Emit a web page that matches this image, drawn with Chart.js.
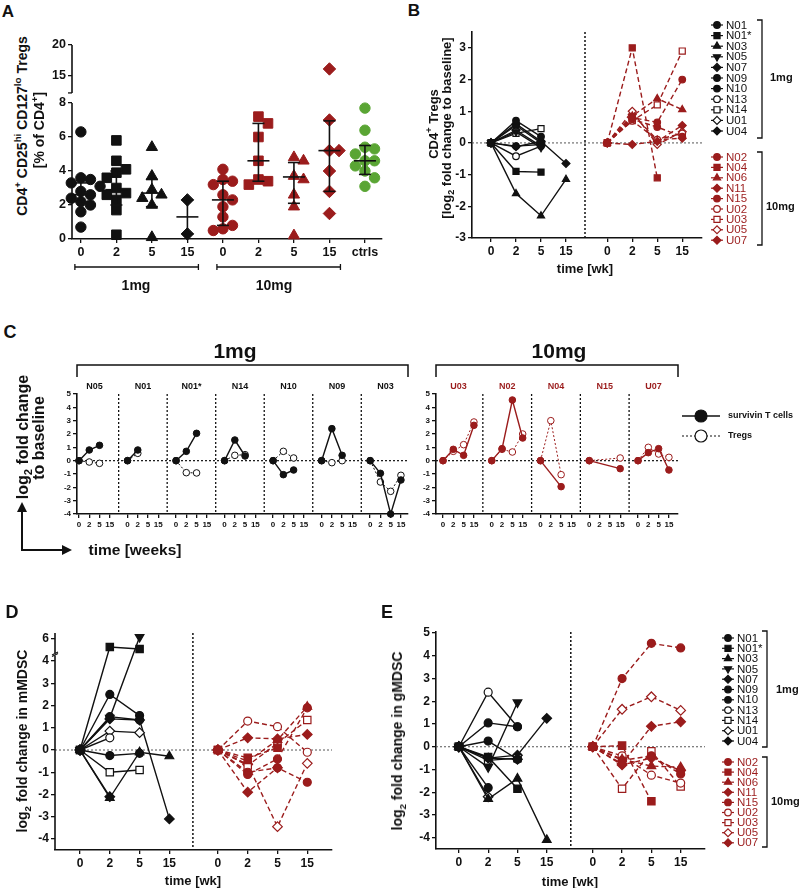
<!DOCTYPE html>
<html>
<head>
<meta charset="utf-8">
<script src="https://cdn.jsdelivr.net/npm/chart.js@4.4.1/dist/chart.umd.min.js"></script>
<style>
  body { margin: 0; width: 800px; height: 888px; position: relative; overflow: hidden; background: #fff;
         font-family: "Liberation Sans", Arial, sans-serif; }
  canvas { position: absolute; }
  .t { position: absolute; transform: translate(-50%, -50%); white-space: nowrap; font-weight: bold; color: #111; line-height: 1; }
  .r { transform: translate(-50%, -50%) rotate(-90deg); }
  sup, sub { font-size: 70%; line-height: 0; }
</style>
</head>
<body>
<script>
// ---------- data ----------
const weekLabels = ['0', '2', '5', '15'];

// A: Treg % of CD4+ per group
const aCats = ['0', '2', '5', '15', '0', '2', '5', '15', 'ctrls'];
const aVals = [
  [6.3, 3.6, 3.5, 3.3, 3.1, 2.8, 2.6, 2.4, 2.2, 2.0, 1.6, 0.7],
  [5.8, 4.6, 4.1, 3.9, 3.6, 3.0, 2.7, 2.6, 2.3, 1.7, 0.25],
  [5.4, 3.7, 2.9, 2.6, 2.4, 2.0, 0.1],
  [2.3, 0.3],
  [4.1, 3.5, 3.4, 3.2, 2.6, 2.3, 1.9, 1.3, 0.8, 0.6, 0.5],
  [7.2, 6.8, 6.0, 4.6, 3.5, 3.4, 3.2],
  [4.8, 4.6, 3.7, 3.5, 2.6, 1.9, 0.2],
  [16.1, 7.0, 5.2, 5.2, 4.0, 2.8, 1.5],
  [7.7, 6.4, 5.4, 5.3, 5.0, 4.6, 4.6, 4.3, 4.0, 3.6, 3.1]
];
const aMed = [2.6, 2.9, 2.7, 1.3, 2.3, 4.6, 3.65, 5.2, 4.6];
const aLo  = [2.2, 2.0, 1.9, 0.3, 0.8, 3.4, 2.1, 2.8, 3.8];
const aHi  = [3.3, 4.0, 3.5, 2.3, 3.4, 6.8, 4.5, 6.95, 5.5];
const aTicks = [0, 2, 4, 6, 8, 15, 20];

// patients
const ids1  = ['N01', 'N01*', 'N03', 'N05', 'N07', 'N09', 'N10', 'N13', 'N14', 'U01', 'U04'];
const ids10 = ['N02', 'N04', 'N06', 'N11', 'N15', 'U02', 'U03', 'U05', 'U07'];

// B: CD4+ Tregs, log2 fold change
const bTregs1 = [
  [0, 0.7, 0.2, null], [0, -0.9, -0.92, null], [0, -1.6, -2.3, -1.15], [0, 0.35, -0.15, null],
  [0, -0.12, 0.05, null], [0, 0.55, 0.0, null], [0, -0.1, -0.05, null], [0, -0.42, -0.1, null],
  [0, 0.3, 0.45, null], [0, 0.4, -0.1, null], [0, 0.6, 0.05, -0.65]
];
const bTregs10 = [
  [0, 0.8, 0.65, 2.0], [0, 3.0, -1.1, null], [0, 0.85, 1.4, 1.05], [0, -0.05, 0.05, 0.55],
  [0, 0.75, 0.5, 0.2], [0, 0.7, 0.1, 0.3], [0, 0.7, 1.2, 2.9], [0, 1.0, -0.05, 0.35], [0, 0.9, 0.1, 0.15]
];
const bTicks = [-3, -2, -1, 0, 1, 2, 3];

// C: survivin T cells vs Tregs per patient
const cIds1 = ['N05', 'N01', 'N01*', 'N14', 'N10', 'N09', 'N03'];
const cSurv1 = [
  [0, 0.8, 1.15, null], [0, 0.8, null, null], [0, 0.7, 2.05, null], [0, 1.55, 0.35, null],
  [0, -1.05, -0.7, null], [0, 2.4, 0.4, null], [0, -0.95, -4.0, -1.45]
];
const cTreg1 = [
  [0, -0.1, -0.2, null], [0, 0.55, null, null], [0, -0.9, -0.92, null], [0, 0.4, 0.45, null],
  [0, 0.7, 0.2, null], [0, -0.15, 0.0, null], [0, -1.6, -2.3, -1.1]
];
const cIds10 = ['U03', 'N02', 'N04', 'N15', 'U07'];
const cSurv10 = [
  [0, 0.85, 0.4, 2.65], [0, 0.9, 4.55, 1.7], [0, null, -1.95, null], [0, null, null, -0.6], [0, 0.6, 0.9, -0.7]
];
const cTreg10 = [
  [0, 0.7, 1.2, 2.9], [0, 0.85, 0.65, 2.0], [0, 3.0, -1.05, null], [0, null, null, 0.2], [0, 1.0, 0.5, 0.25]
];
const cTicks = [-4, -3, -2, -1, 0, 1, 2, 3, 4, 5];

// D: mMDSC
const dMdsc1 = [
  [0, 1.5, 1.35, null], [0, 5.6, 5.5, null], [0, -2.15, -0.1, -0.28], [0, 1.45, 6.1, null],
  [0, -2.1, null, null], [0, 2.5, 1.55, null], [0, -0.25, -0.15, null], [0, 0.55, null, null],
  [0, -1.0, -0.9, null], [0, 0.85, 0.78, null], [0, 1.4, 1.35, -3.1]
];
const dMdsc10 = [
  [0, -1.1, -0.4, 1.9], [0, -0.35, 0.1, null], [0, -0.5, 0.45, 1.95], [0, 0.55, 0.5, 0.7],
  [0, -1.0, -0.8, -1.45], [0, 1.3, 1.05, -0.1], [0, -0.7, 0.3, 1.35], [0, -0.65, -3.45, -0.6], [0, -1.9, -0.8, null]
];
const dTicks = [-4, -3, -2, -1, 0, 1, 2, 3, 4, 6];

// E: gMDSC
const eGmdsc1 = [
  [0, -1.8, null, null], [0, -0.45, -1.85, null], [0, -2.3, -1.4, -4.1], [0, -0.9, 1.95, null],
  [0, -0.5, -0.55, null], [0, 1.05, 0.88, null], [0, 0.25, -0.55, null], [0, 2.4, 0.88, null],
  [0, -0.6, -0.5, null], [0, -2.2, null, null], [0, -0.5, -0.37, 1.25]
];
const eGmdsc10 = [
  [0, 3.0, 4.55, 4.35], [0, 0.05, -2.4, null], [0, -0.55, -0.85, -0.9], [0, -0.75, 0.9, 1.1],
  [0, -0.6, -0.4, -1.2], [0, -0.4, -1.25, -1.6], [0, -1.85, -0.2, -1.75], [0, 1.65, 2.2, 1.6], [0, -0.8, -0.5, -1.05]
];
const eTicks = [-4, -3, -2, -1, 0, 1, 2, 3, 4, 5];

// ---------- styles ----------
const INK = '#111', RED = '#9b1c1c', GREEN = '#5aa534';
const FONT = '"Liberation Sans", Arial, sans-serif';
const shapes1  = ['circle', 'rect', 'triangle', 'invtri', 'rectRot', 'circle', 'circle', 'circle', 'rect', 'rectRot', 'rectRot'];
const open1    = [0, 0, 0, 0, 0, 0, 0, 1, 1, 1, 0];
const shapes10 = ['circle', 'rect', 'triangle', 'rectRot', 'circle', 'circle', 'rect', 'rectRot', 'rectRot'];
const open10   = [0, 0, 0, 0, 0, 1, 1, 1, 0];
const aShapes  = ['circle', 'rect', 'triangle', 'rectRot', 'circle', 'rect', 'triangle', 'rectRot', 'circle'];
const aColors  = [INK, INK, INK, INK, RED, RED, RED, RED, GREEN];

Chart.defaults.font.family = FONT;
Chart.defaults.color = INK;

// linear scale with a compressed gap (broken axis)
const Lin = Chart.LinearScale || Chart.registry.getScale('linear');
class BrokenScale extends Lin {
  _dec(v) {
    const [b0, b1] = this.options.brk, [f0, f1] = this.options.brkFrac;
    if (v <= b0) return (v - this.min) / (b0 - this.min) * f0;
    if (v >= b1) return f1 + (v - b1) / (this.max - b1) * (1 - f1);
    return f0 + (v - b0) / (b1 - b0) * (f1 - f0);
  }
  getPixelForValue(v) {
    if (v === null || v === undefined || isNaN(v)) return NaN;
    return this.getPixelForDecimal(this._dec(v));
  }
  getValueForPixel(p) {
    const d = this.getDecimalForPixel(p);
    const [b0, b1] = this.options.brk, [f0, f1] = this.options.brkFrac;
    if (d <= f0) return this.min + d / f0 * (b0 - this.min);
    if (d >= f1) return b1 + (d - f1) / (1 - f1) * (this.max - b1);
    return b0 + (d - f0) / (f1 - f0) * (b1 - b0);
  }
}
BrokenScale.id = 'broken';
BrokenScale.defaults = {};
Chart.register(BrokenScale);

// ---------- helpers ----------
const YW = 30, XH = 24;
const gridOpt = { display: true, drawOnChartArea: false, drawTicks: true, tickLength: 4, color: INK, lineWidth: 1.3 };

function xAxis(min, max, vals, labels, size) {
  return {
    type: 'linear', min, max, grid: gridOpt,
    border: { display: true, color: INK, width: 1.6 },
    ticks: { autoSkip: false, maxRotation: 0, padding: 2, color: INK, font: { size, weight: 'bold' },
             callback: (v, i) => labels[i] },
    afterBuildTicks: s => { s.ticks = vals.map(value => ({ value })); },
    afterFit: s => { s.height = XH; }
  };
}
function yAxis(min, max, vals, size, more) {
  return Object.assign({
    type: 'linear', min, max, grid: gridOpt,
    border: { display: true, color: INK, width: 1.6 },
    ticks: { autoSkip: false, padding: 2, color: INK, font: { size, weight: 'bold' }, callback: v => String(v) },
    afterBuildTicks: s => { s.ticks = vals.map(value => ({ value })); },
    afterFit: s => { s.width = YW; }
  }, more || {});
}

// box = chart area [left, top, right, bottom] in page px, pad = [top, right, bottom, left]
function makeChart(box, pad, config, plugin) {
  const c = document.createElement('canvas');
  const left = box[0] - YW - pad[3], top = box[1] - pad[0];
  const w = box[2] + pad[1] - left, h = box[3] + XH + pad[2] - top;
  c.width = w; c.height = h;
  c._off = [left, top];
  Object.assign(c.style, { left: left + 'px', top: top + 'px', width: w + 'px', height: h + 'px' });
  document.body.appendChild(c);
  config.options = Object.assign({
    responsive: false, animation: false,
    layout: { padding: { top: pad[0], right: pad[1], bottom: pad[2], left: pad[3] } },
    plugins: { legend: { display: false }, tooltip: { enabled: false } }
  }, config.options);
  config.plugins = [plugin];
  return new Chart(c, config);
}

function deco(under, over, page) {
  return {
    id: 'deco',
    beforeDatasetsDraw: c => { if (under) { c.ctx.save(); under(c, c.ctx); c.ctx.restore(); } },
    afterDatasetsDraw: c => {
      const ctx = c.ctx;
      if (over) { ctx.save(); over(c, ctx); ctx.restore(); }
      // page-coordinate extras (legends outside the plot)
      if (page) { ctx.save(); ctx.translate(-c.canvas._off[0], -c.canvas._off[1]); page(c, ctx); ctx.restore(); }
    }
  };
}
function seg(ctx, pts, color, w, dash) {
  ctx.save();
  ctx.strokeStyle = color; ctx.lineWidth = w; ctx.setLineDash(dash || []);
  ctx.beginPath(); ctx.moveTo(pts[0], pts[1]);
  for (let i = 2; i < pts.length; i += 2) ctx.lineTo(pts[i], pts[i + 1]);
  ctx.stroke(); ctx.restore();
}
const pst = s => (s === 'invtri' ? 'triangle' : s);
const rot = s => (s === 'invtri' ? 180 : 0);
const rad = (s, r) => (s === 'circle' ? r : s === 'rect' ? r * 1.3 : s === 'rectRot' ? r * 1.2 : r * 1.25);

function mark(ctx, shape, open, x, y, r, color) {
  ctx.save();
  ctx.setLineDash([]);
  ctx.fillStyle = open ? '#fff' : color; ctx.strokeStyle = color; ctx.lineWidth = 1.2;
  Chart.helpers.drawPoint(ctx, { pointStyle: pst(shape), rotation: rot(shape), radius: rad(shape, r), borderWidth: 1.2 }, x, y);
  ctx.restore();
}
function text(ctx, s, x, y, size, color, bold, align) {
  ctx.fillStyle = color; ctx.font = (bold ? 'bold ' : '') + size + 'px ' + FONT;
  ctx.textAlign = align || 'center'; ctx.textBaseline = 'middle';
  ctx.fillText(s, x, y);
}
function legendBlock(ctx, ids, shapes, opens, color, x0, y0, dy) {
  ids.forEach((id, k) => {
    const y = y0 + k * dy;
    seg(ctx, [x0 - 6, y, x0 + 6, y], color, 1.2);
    mark(ctx, shapes[k], opens[k], x0, y, 3.3, color);
    text(ctx, id, x0 + 9, y + 0.5, 11.5, color, false, 'left');
  });
}
function sideBracket(ctx, x, y1, y2, label, lx, ly) {
  seg(ctx, [x - 5, y1, x, y1, x, y2, x - 5, y2], INK, 1.3);
  text(ctx, label, lx, ly, 11, INK, true, 'left');
}

// line series for B / D / E
function series(rows, shapes, opens, color, dash, off, r) {
  return rows.map((row, k) => ({
    data: row.map((y, i) => ({ x: off + i, y })),
    borderColor: color, borderWidth: 1.4, borderDash: dash, spanGaps: true, clip: false,
    pointStyle: pst(shapes[k]), pointRotation: rot(shapes[k]), pointRadius: rad(shapes[k], r),
    pointBackgroundColor: opens[k] ? '#fff' : color, pointBorderColor: color, pointBorderWidth: 1.2
  }));
}
function twoGroupTicks(off) { return [0, 1, 2, 3].concat([0, 1, 2, 3].map(i => off + i)); }
const twoGroupLabels = weekLabels.concat(weekLabels);

function timeCourse(box, pad, rows1, rows10, off, sep, xr, yr, yTicks, yMore, r, over, page) {
  return makeChart(box, pad, {
    type: 'line',
    data: { datasets: series(rows1, shapes1, open1, INK, [], 0, r).concat(series(rows10, shapes10, open10, RED, [5, 3], off, r)) },
    options: { scales: { x: xAxis(xr[0], xr[1], twoGroupTicks(off), twoGroupLabels, 12),
                         y: yAxis(yr[0], yr[1], yTicks, 12, yMore) } }
  }, deco((c, ctx) => {
    const a = c.chartArea, x = c.scales.x, y = c.scales.y;
    seg(ctx, [a.left, y.getPixelForValue(0), a.right, y.getPixelForValue(0)], '#555', 1, [2, 2]);
    seg(ctx, [x.getPixelForValue(sep), a.top, x.getPixelForValue(sep), a.bottom], INK, 1.5, [2, 2]);
  }, over, page));
}

// ---------- A ----------
function swarm(vals, dx, dy) {
  const placed = [];
  return vals.map(v => {
    for (let k = 0; ; k++) {
      const off = (k % 2 ? 1 : -1) * Math.ceil(k / 2) * dx;
      if (!placed.some(p => Math.abs(p[0] - off) < dx * 0.9 && Math.abs(p[1] - v) < dy)) {
        placed.push([off, v]);
        return off;
      }
    }
  });
}
makeChart([72, 45, 382, 239], [12, 12, 40, 12], {
  type: 'scatter',
  data: {
    datasets: aVals.map((vals, g) => {
      const offs = swarm(vals, 0.27, 0.55);
      return {
        data: vals.map((v, j) => ({ x: g + offs[j], y: v })), clip: false,
        pointStyle: aShapes[g], pointRadius: rad(aShapes[g], 5.2),
        pointBackgroundColor: aColors[g], pointBorderColor: aColors[g], pointBorderWidth: 1
      };
    })
  },
  options: {
    scales: {
      x: xAxis(-0.25, 8.48, aCats.map((_, i) => i), aCats, 12.5),
      y: yAxis(0, 20, aTicks, 12.5, { type: 'broken', brk: [8, 12.2], brkFrac: [0.701, 0.753], border: { display: false } })
    }
  }
}, deco(null, (c, ctx) => {
  const a = c.chartArea, x = c.scales.x, y = c.scales.y;
  seg(ctx, [a.left, a.bottom, a.left, y.getPixelForValue(8)], INK, 1.6);
  seg(ctx, [a.left, y.getPixelForValue(12.2), a.left, a.top], INK, 1.6);
  seg(ctx, [a.left - 4, y.getPixelForValue(12.2), a.left, y.getPixelForValue(12.2)], INK, 1.3);
  aMed.forEach((m, i) => {
    const cx = x.getPixelForValue(i), ym = y.getPixelForValue(m);
    const yl = y.getPixelForValue(aLo[i]), yh = y.getPixelForValue(aHi[i]);
    seg(ctx, [cx - 11, ym, cx + 11, ym], INK, 1.6);
    seg(ctx, [cx - 6, yl, cx + 6, yl], INK, 1.6);
    seg(ctx, [cx - 6, yh, cx + 6, yh], INK, 1.6);
    seg(ctx, [cx, yl, cx, yh], INK, 1.6);
  });
  const yb = a.bottom + 28;
  [[0, 3], [4, 7]].forEach(([g0, g1]) => {
    const x0 = x.getPixelForValue(g0) - 6, x1 = x.getPixelForValue(g1) + 11;
    seg(ctx, [x0, yb, x1, yb], INK, 1.3);
    seg(ctx, [x0, yb - 3, x0, yb + 3], INK, 1.3);
    seg(ctx, [x1, yb - 3, x1, yb + 3], INK, 1.3);
  });
}));

// ---------- B ----------
timeCourse([472, 32, 702, 238], [14, 98, 10, 12], bTregs1, bTregs10, 4.65, 3.76, [-0.76, 8.44], [-3, 3.5], bTicks, null, 3.3,
  null, (c, ctx) => {
    legendBlock(ctx, ids1, shapes1, open1, INK, 717, 25, 10.6);
    legendBlock(ctx, ids10, shapes10, open10, RED, 717, 157, 10.4);
    sideBracket(ctx, 762, 20, 138, '1mg', 770, 78);
    sideBracket(ctx, 762, 152, 245, '10mg', 766, 207);
  });

// ---------- C ----------
const pitch = 4.73;
function cChart(box, pad, ids, surv, treg, color, xr, page) {
  const xt = [], xl = [];
  ids.forEach((_, p) => weekLabels.forEach((w, i) => { xt.push(p * pitch + i); xl.push(w); }));
  const mk = (rows, dotted) => rows.map((row, p) => ({
    data: row.map((y, i) => ({ x: p * pitch + i, y })), spanGaps: true, clip: false,
    borderColor: color, borderWidth: dotted ? 1 : 1.4, borderDash: dotted ? [2, 2] : [],
    pointRadius: 3.3, pointBackgroundColor: dotted ? '#fff' : color, pointBorderColor: color, pointBorderWidth: 1
  }));
  return makeChart(box, pad, {
    type: 'line',
    data: { datasets: mk(surv, false).concat(mk(treg, true)) },
    options: { scales: { x: xAxis(xr[0], xr[1], xt, xl, 8), y: yAxis(-4, 5, cTicks, 8) } }
  }, deco((c, ctx) => {
    const a = c.chartArea, x = c.scales.x, y = c.scales.y;
    seg(ctx, [a.left, y.getPixelForValue(0), a.right, y.getPixelForValue(0)], INK, 1.2, [2, 2]);
    for (let p = 0; p < ids.length - 1; p++) {
      const sx = x.getPixelForValue(p * pitch + 3.865);
      seg(ctx, [sx, a.top, sx, a.bottom], INK, 1.3, [2, 2]);
    }
  }, (c, ctx) => {
    const a = c.chartArea, x = c.scales.x;
    ids.forEach((id, p) => text(ctx, id, x.getPixelForValue(p * pitch + 1.5), a.top - 7, 9, color, true));
    seg(ctx, [a.left, a.top - 17, a.left, a.top - 29, a.right, a.top - 29, a.right, a.top - 17], INK, 1.5);
  }, page));
}
cChart([77, 394, 408, 514], [40, 10, 10, 12], cIds1, cSurv1, cTreg1, INK, [-0.195, 32.07]);
cChart([436, 394, 678, 514], [40, 122, 10, 12], cIds10, cSurv10, cTreg10, RED, [-0.68, 22.8], (c, ctx) => {
  seg(ctx, [682, 416, 720, 416], INK, 1.5);
  mark(ctx, 'circle', 0, 701, 416, 6, INK);
  text(ctx, 'survivin T cells', 728, 416, 9, INK, true, 'left');
  seg(ctx, [682, 436, 720, 436], INK, 1.2, [2, 2]);
  mark(ctx, 'circle', 1, 701, 436, 6, INK);
  text(ctx, 'Tregs', 728, 436, 9, INK, true, 'left');
});

// ---------- D ----------
timeCourse([55, 633, 332, 850], [12, 12, 12, 12], dMdsc1, dMdsc10, 4.63, 3.79, [-0.84, 8.46], [-4.5, 6.3], dTicks,
  { type: 'broken', brk: [4.25, 5.3], brkFrac: [0.896, 0.908], border: { display: false } }, 4,
  (c, ctx) => {
    const a = c.chartArea, y = c.scales.y;
    const yb = y.getPixelForValue(4.25), yt = y.getPixelForValue(5.3);
    seg(ctx, [a.left, a.bottom, a.left, yb], INK, 1.6);
    seg(ctx, [a.left, yt, a.left, a.top], INK, 1.6);
    seg(ctx, [a.left - 3, yb + 1, a.left + 3, yb - 2], INK, 1.2);
    seg(ctx, [a.left - 3, yt + 2, a.left + 3, yt - 1], INK, 1.2);
  });

// ---------- E ----------
timeCourse([436, 632, 705, 849], [12, 95, 12, 12], eGmdsc1, eGmdsc10, 4.57, 3.82, [-0.78, 8.4], [-4.5, 5.05], eTicks, null, 4,
  null, (c, ctx) => {
    legendBlock(ctx, ids1, shapes1, open1, INK, 728, 638, 10.3);
    legendBlock(ctx, ids10, shapes10, open10, RED, 728, 762, 10.1);
    sideBracket(ctx, 767, 631, 747, '1mg', 776, 690);
    sideBracket(ctx, 767, 757, 847, '10mg', 771, 802);
  });

// ---------- text labels ----------
const labels = [
  ['A', 8, 11, 17], ['B', 414, 10, 17], ['C', 10, 332, 18], ['D', 12, 612, 18], ['E', 387, 612, 18],
  ['CD4<sup>+</sup> CD25<sup>hi</sup> CD127<sup>lo</sup> Tregs', 22, 126, 14, 'r'],
  ['[% of CD4<sup>+</sup>]', 39, 130, 14, 'r'],
  ['1mg', 136, 285, 14], ['10mg', 274, 285, 14],
  ['CD4<sup>+</sup> Tregs', 433, 124, 13, 'r'],
  ['[log<sub>2</sub> fold change to baseline]', 446, 128, 13, 'r'],
  ['time [wk]', 585, 268, 13],
  ['1mg', 235, 350, 21], ['10mg', 559, 350, 21],
  ['log<sub>2</sub> fold change', 23, 437, 16, 'r'], ['to baseline', 39, 438, 16, 'r'],
  ['time [weeks]', 135, 550, 15.5],
  ['log<sub>2</sub> fold change in mMDSC', 22, 741, 14, 'r'], ['time [wk]', 193, 880, 13],
  ['log<sub>2</sub> fold change in gMDSC', 397, 741, 14, 'r'], ['time [wk]', 570, 881, 13]
];
labels.forEach(([html, x, y, size, cls]) => {
  const d = document.createElement('div');
  d.className = 't' + (cls ? ' ' + cls : '');
  d.innerHTML = html;
  Object.assign(d.style, { left: x + 'px', top: y + 'px', fontSize: size + 'px' });
  document.body.appendChild(d);
});

// axis arrows for C
const arrows = document.createElement('canvas');
arrows.width = 80; arrows.height = 70;
Object.assign(arrows.style, { left: '10px', top: '495px' });
document.body.appendChild(arrows);
const actx = arrows.getContext('2d');
seg(actx, [12, 16, 12, 55, 54, 55], INK, 2);
actx.fillStyle = INK;
actx.beginPath(); actx.moveTo(12, 7); actx.lineTo(7, 17); actx.lineTo(17, 17); actx.fill();
actx.beginPath(); actx.moveTo(62, 55); actx.lineTo(52, 50); actx.lineTo(52, 60); actx.fill();
</script>
</body>
</html>
